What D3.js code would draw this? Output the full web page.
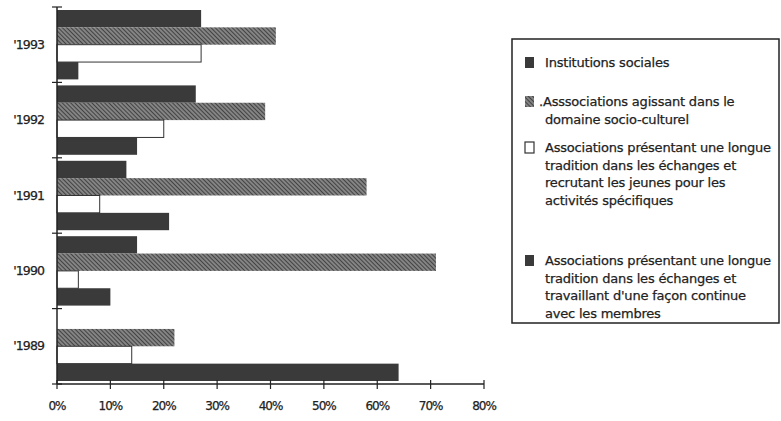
<!DOCTYPE html>
<html><head><meta charset="utf-8">
<script src="https://cdn.jsdelivr.net/npm/d3@7/dist/d3.min.js"></script>
<style>body{margin:0;background:#fff}svg{display:block}text{font-family:"DejaVu Sans",sans-serif;fill:#222;stroke:#222;stroke-width:0.25px}</style>
</head><body><svg id="c" width="781" height="421"></svg>
<script>
const years = ["'1993","'1992","'1991","'1990","'1989"];
const institutionsSociales = [27, 26, 13, 15, 0];
const socioCulturel = [41, 39, 58, 71, 22];
const recrutantJeunes = [27, 20, 8, 4, 14];
const travailContinu = [4, 15, 21, 10, 64];
const xTicks = [0, 10, 20, 30, 40, 50, 60, 70, 80];
const seriesKeys = ["inst", "socio", "recr", "cont"];
const legendLabels = [
  ["Institutions sociales"],
  [".Asssociations agissant dans le", "domaine socio-culturel"],
  ["Associations présentant une longue", "tradition dans les échanges et", "recrutant les jeunes pour les", "activités spécifiques"],
  ["Associations présentant une longue", "tradition dans les échanges et", "travaillant d'une façon continue", "avec les membres"]
];
const seriesValues = [institutionsSociales, socioCulturel, recrutantJeunes, travailContinu];

const svg = d3.select("#c");
const defs = svg.append("defs");
const pat = defs.append("pattern").attr("id","hatch").attr("patternUnits","userSpaceOnUse")
  .attr("width",3).attr("height",3).attr("patternTransform","rotate(-45)");
pat.append("rect").attr("width",3).attr("height",3).attr("fill","#434343");
pat.append("line").attr("x1",1).attr("x2",1).attr("y1",0).attr("y2",3).attr("stroke","#d4d4d4").attr("stroke-width",0.9);

const fills = ["#3a3a3a","url(#hatch)","#fff","#3a3a3a"];

const x = d3.scaleLinear().domain([0,80]).range([57,484]);
const y = d3.scaleBand().domain(years).range([7,384]).padding(0);
const ys = d3.scaleBand().domain(seriesKeys).range([3, y.bandwidth()-3]).padding(0);

const rows = years.map((yr,i)=>({yr, vals: seriesKeys.map((k,j)=>({k, v: seriesValues[j][i], j}))}));
const g = svg.append("g");
const rowG = g.selectAll("g.row").data(rows).join("g").attr("transform", d=>`translate(0,${y(d.yr)})`);
rowG.selectAll("rect").data(d=>d.vals.filter(e=>e.v>0)).join("rect")
  .attr("x", x(0)).attr("y", d=>ys(d.k)).attr("height", ys.bandwidth())
  .attr("width", d=>x(d.v)-x(0))
  .attr("fill", d=>fills[d.j])
  .attr("stroke", d=>d.j===2 ? "#333" : "none")
  .attr("stroke-width", 1);

// x axis
const xa = svg.append("g").attr("transform","translate(0,384)");
xa.append("line").attr("x1",x(0)).attr("x2",x(80)).attr("stroke","#222").attr("stroke-width",1.5);
xa.selectAll("line.t").data(xTicks).join("line").attr("class","t")
  .attr("x1",d=>x(d)).attr("x2",d=>x(d)).attr("y1",-4).attr("y2",5).attr("stroke","#222").attr("stroke-width",1.2);
xa.selectAll("text").data(xTicks).join("text")
  .attr("x",d=>x(d)).attr("y",26).attr("text-anchor","middle").attr("font-size",12).attr("letter-spacing",-1)
  .text(d=>d+"%");

// y axis
const ya = svg.append("g");
ya.append("line").attr("x1",x(0)).attr("x2",x(0)).attr("y1",7).attr("y2",384).attr("stroke","#222").attr("stroke-width",1.5);
const bounds = years.map(yy=>y(yy)).concat([384]);
ya.selectAll("line.t").data(bounds).join("line").attr("class","t")
  .attr("x1",x(0)-5).attr("x2",x(0)+5).attr("y1",d=>d).attr("y2",d=>d).attr("stroke","#222").attr("stroke-width",1.2);
ya.selectAll("text").data(years).join("text")
  .attr("x",44).attr("y",d=>y(d)+y.bandwidth()/2+4).attr("text-anchor","end").attr("font-size",12.5).attr("letter-spacing",-0.9)
  .text(d=>d);

// legend
const lg = svg.append("g");
lg.append("rect").attr("x",512).attr("y",39).attr("width",267).attr("height",284).attr("fill","#fff").attr("stroke","#222").attr("stroke-width",1.5);
const legTop = [63, 102, 148, 261];
const lineH = 17.6;
legendLabels.forEach((lines,i)=>{
  lg.append("rect").attr("x",525).attr("y",legTop[i]-6).attr("width",9).attr("height",11)
    .attr("fill",fills[i]).attr("stroke", i===2 ? "#333" : "none").attr("stroke-width",1.2);
  lines.forEach((t,k)=>{
    lg.append("text").attr("x", (i===1 && k===0) ? 539 : 545).attr("y", legTop[i]+4+k*lineH)
      .attr("font-size",13).attr("letter-spacing",-0.2).text(t);
  });
});
</script></body></html>
